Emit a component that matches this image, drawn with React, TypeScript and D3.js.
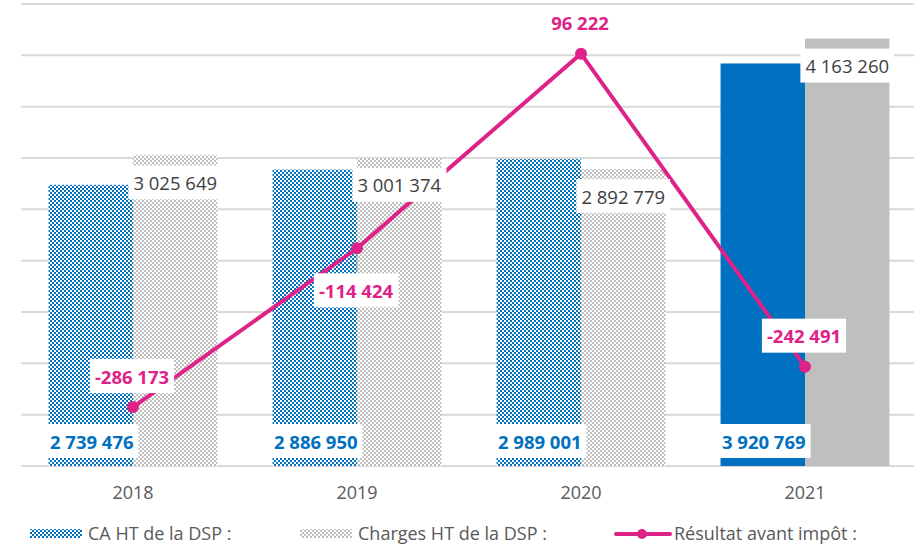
import React, { useRef, useEffect } from "react";
import * as d3 from "d3";

const years = ["2018", "2019", "2020", "2021"];
const caValues = [2739476, 2886950, 2989001, 3920769];
const chargesValues = [3025649, 3001374, 2892779, 4163260];
const resultValues = [-286173, -114424, 96222, -242491];
// where the result label sits relative to its point
const resultLabelSide = ["above", "below", "above", "above"];
const yTicks = d3.range(0, 4500001, 500000);

const BLUE = "#0070C0";
const GRAY = "#BFBFBF";
const PINK = "#DE2288";
const TEXT = "#595959";
const FONT = "'Open Sans', sans-serif";

const fmt = (v: number) => {
  const s = d3.format(",")(Math.abs(v)).replace(/,/g, " ");
  return (v < 0 ? "-" : "") + s;
};

const App = () => {
  const svgRef = useRef<SVGSVGElement>(null);

  useEffect(() => {
    const svg = d3.select(svgRef.current);
    svg.selectAll("*").remove();
    const width = 914;
    const height = 546;
    const margin = { top: 4, bottom: 80, left: 21, right: -3 };
    const base = height - margin.bottom;

    const defs = svg.append("defs");
    const mkPattern = (id: string, color: string) => {
      const p = defs
        .append("pattern")
        .attr("id", id)
        .attr("width", 4)
        .attr("height", 4)
        .attr("patternUnits", "userSpaceOnUse");
      p.append("rect").attr("width", 4).attr("height", 4).attr("fill", color);
      p.append("rect").attr("x", 0).attr("y", 0).attr("width", 2).attr("height", 2).attr("fill", "#fff")
        .attr("shape-rendering", "crispEdges");
      p.append("rect").attr("x", 2).attr("y", 2).attr("width", 2).attr("height", 2).attr("fill", "#fff")
        .attr("shape-rendering", "crispEdges");
    };
    mkPattern("patBlue", BLUE);
    mkPattern("patGray", GRAY);

    const x = d3
      .scaleBand()
      .domain(years)
      .range([margin.left, width - margin.right])
      .paddingInner(0.246)
      .paddingOuter(0.123);
    const xs = d3.scaleBand().domain(["ca", "ch"]).range([0, x.bandwidth()]);

    const y = d3.scaleLinear().domain([0, 4500000]).range([base, margin.top]);
    const y2 = d3.scaleLinear().domain([-350000, 150000]).range([base, margin.top]);

    // gridlines
    svg
      .append("g")
      .selectAll("line")
      .data(yTicks)
      .join("line")
      .attr("x1", margin.left)
      .attr("x2", width)
      .attr("y1", (d) => y(d))
      .attr("y2", (d) => y(d))
      .attr("stroke", "#D9D9D9")
      .attr("stroke-width", 2);

    const fillFor = (series: string, i: number) => {
      if (years[i] === "2021") return series === "ca" ? BLUE : GRAY;
      return series === "ca" ? "url(#patBlue)" : "url(#patGray)";
    };

    svg
      .append("g")
      .selectAll("rect")
      .data(years)
      .join("rect")
      .attr("x", (d) => x(d)! + xs("ca")!)
      .attr("y", (d, i) => y(caValues[i]))
      .attr("width", xs.bandwidth())
      .attr("height", (d, i) => base - y(caValues[i]))
      .attr("fill", (d, i) => fillFor("ca", i));

    svg
      .append("g")
      .selectAll("rect")
      .data(years)
      .join("rect")
      .attr("x", (d) => x(d)! + xs("ch")!)
      .attr("y", (d, i) => y(chargesValues[i]))
      .attr("width", xs.bandwidth())
      .attr("height", (d, i) => base - y(chargesValues[i]))
      .attr("fill", (d, i) => fillFor("ch", i));

    // x axis labels
    svg
      .append("g")
      .selectAll("text")
      .data(years)
      .join("text")
      .attr("x", (d) => x(d)! + x.bandwidth() / 2)
      .attr("y", base + 33)
      .attr("text-anchor", "middle")
      .attr("font-family", FONT)
      .attr("font-size", 18)
      .attr("fill", TEXT)
      .text((d) => d);

    // result line
    const cx = (i: number) => x(years[i])! + x.bandwidth() / 2;
    const line = d3
      .line<number>()
      .x((d, i) => cx(i))
      .y((d) => y2(d));

    svg
      .append("path")
      .datum(resultValues)
      .attr("fill", "none")
      .attr("stroke", PINK)
      .attr("stroke-width", 4)
      .attr("d", line);

    svg
      .append("g")
      .selectAll("circle")
      .data(resultValues)
      .join("circle")
      .attr("cx", (d, i) => cx(i))
      .attr("cy", (d) => y2(d))
      .attr("r", 6)
      .attr("fill", PINK);

    // labels with white boxes
    const labels = svg.append("g");
    const addLabel = (
      tx: number,
      ty: number,
      txt: string,
      color: string,
      bold: boolean,
      box: boolean
    ) => {
      const g = labels.append("g");
      const rect = g.append("rect").attr("fill", "#fff");
      const t = g
        .append("text")
        .attr("x", tx)
        .attr("y", ty)
        .attr("text-anchor", "middle")
        .attr("dominant-baseline", "central")
        .attr("font-family", FONT)
        .attr("font-size", 18.5)
        .attr("font-weight", bold ? 700 : 400)
        .attr("fill", color)
        .text(txt);
      const bb = (t.node() as SVGTextElement).getBBox();
      if (box) {
        rect
          .attr("x", bb.x - 5)
          .attr("y", ty - 17)
          .attr("width", bb.width + 10)
          .attr("height", 34);
      } else {
        rect.remove();
      }
    };

    // leader line for the 2019 result label
    const i19 = resultLabelSide.indexOf("below");
    svg
      .insert("line", "g:last-child")
      .attr("x1", cx(i19))
      .attr("x2", cx(i19))
      .attr("y1", y2(resultValues[i19]) + 5)
      .attr("y2", y2(resultValues[i19]) + 24)
      .attr("stroke", "#A6A6A6")
      .attr("stroke-width", 1);

    years.forEach((yr, i) => {
      addLabel(x(yr)! + xs("ca")! + xs.bandwidth() / 2 + 1, base - 25, fmt(caValues[i]), BLUE, true, true);
      addLabel(
        x(yr)! + xs("ch")! + xs.bandwidth() / 2,
        y(chargesValues[i]) + 27,
        fmt(chargesValues[i]),
        "#404040",
        false,
        true
      );
      const py = y2(resultValues[i]);
      const ly = resultLabelSide[i] === "below" ? py + 42 : py - 31;
      addLabel(cx(i) - 1, ly, fmt(resultValues[i]), PINK, true, yr !== "2020");
    });

    // legend
    const leg = svg.append("g").attr("font-family", FONT).attr("font-size", 18).attr("fill", TEXT);
    const ly = 533;
    leg.append("rect").attr("x", 30).attr("y", ly - 4).attr("width", 52).attr("height", 9).attr("fill", "url(#patBlue)");
    leg.append("text").attr("x", 88).attr("y", ly).attr("dominant-baseline", "central").text("CA HT de la DSP :");
    leg.append("rect").attr("x", 300).attr("y", ly - 4).attr("width", 52).attr("height", 9).attr("fill", "url(#patGray)");
    leg.append("text").attr("x", 358).attr("y", ly).attr("dominant-baseline", "central").text("Charges HT de la DSP :");
    leg
      .append("line")
      .attr("x1", 616)
      .attr("x2", 670)
      .attr("y1", ly + 1)
      .attr("y2", ly + 1)
      .attr("stroke", PINK)
      .attr("stroke-width", 4)
      .attr("stroke-linecap", "round");
    leg.append("circle").attr("cx", 642).attr("cy", ly + 1).attr("r", 5).attr("fill", PINK);
    leg.append("text").attr("x", 674).attr("y", ly).attr("dominant-baseline", "central").text("Résultat avant impôt :");
  }, []);

  return (
    <svg
      ref={svgRef}
      width={914}
      height={546}
      style={{ position: "absolute", left: 0, top: 0, background: "#fff" }}
    ></svg>
  );
};

export default App;
